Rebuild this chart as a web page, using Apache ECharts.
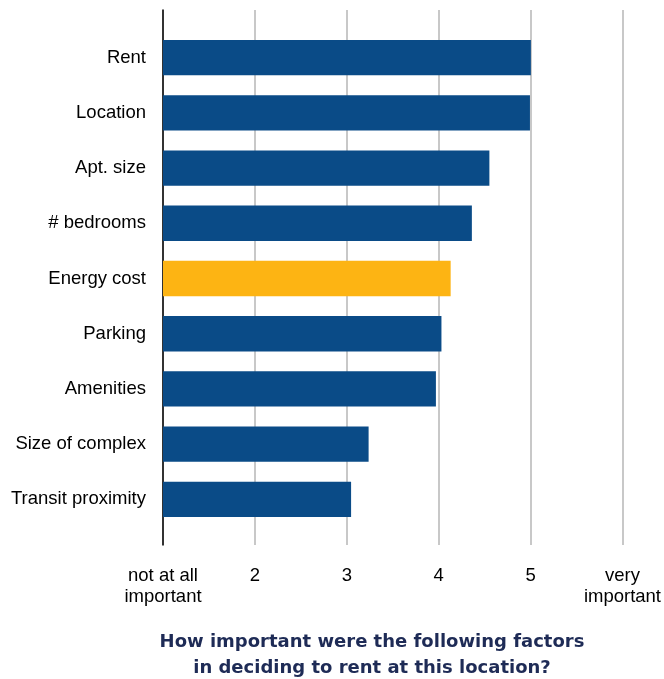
<!DOCTYPE html>
<html>
<head>
<meta charset="utf-8">
<script src="https://cdn.jsdelivr.net/npm/echarts@6/dist/echarts.min.js"></script>
<style>
  html, body { margin: 0; padding: 0; background: #fff; }
  #chart { width: 664px; height: 679px; }
</style>
</head>
<body>
<div id="chart"></div>
<script>
// Survey factors, top to bottom
const categories = ['Rent', 'Location', 'Apt. size', '# bedrooms', 'Energy cost',
  'Parking', 'Amenities', 'Size of complex', 'Transit proximity'];
// Mean importance rating (1 = not at all important, 6 = very important)
const ratings = [4.99, 4.98, 4.54, 4.35, 4.12, 4.02, 3.96, 3.23, 3.04];
// Scale tick labels
const tickLabels = { 1: 'not at all\nimportant', 2: '2', 3: '3', 4: '4', 5: '5', 6: 'very\nimportant' };
const highlighted = 'Energy cost';

const BLUE = '#0a4b87';
const GOLD = '#fdb413';
const FONT = '"Liberation Sans", Arial, sans-serif';

const chart = echarts.init(document.getElementById('chart'));
chart.setOption({
  animation: false,
  grid: [
    // frame: gridlines and scale labels
    { left: 163, right: 40, top: 10, bottom: 134 },
    // bars
    { left: 163, right: 40, top: 30, bottom: 152 }
  ],
  xAxis: [
    {
      gridIndex: 0, type: 'value', min: 1, max: 6, interval: 1,
      axisLine: { show: false },
      axisTick: { show: false },
      splitLine: { show: true, lineStyle: { color: '#c8c8c8', width: 2 } },
      axisLabel: {
        margin: 20, color: '#000', fontSize: 18.5, fontFamily: FONT, lineHeight: 21,
        formatter: v => tickLabels[v] || ''
      }
    },
    { gridIndex: 1, type: 'value', min: 1, max: 6, show: false }
  ],
  yAxis: [
    {
      gridIndex: 0, type: 'value', min: 0, max: 1,
      axisLine: { show: true, lineStyle: { color: '#000', width: 1.5 } },
      axisTick: { show: false }, axisLabel: { show: false }, splitLine: { show: false }
    },
    {
      gridIndex: 1, type: 'category', inverse: true, data: categories,
      axisLine: { show: false }, axisTick: { show: false },
      axisLabel: { margin: 17, color: '#000', fontSize: 18.5, fontFamily: FONT, padding: [4, 0, 0, 0] }
    }
  ],
  series: [{
    type: 'bar',
    xAxisIndex: 1, yAxisIndex: 1,
    barWidth: '64%',
    data: ratings.map((v, i) => ({
      value: v,
      itemStyle: { color: categories[i] === highlighted ? GOLD : BLUE }
    }))
  }],
  graphic: [{
    type: 'text',
    x: 372,
    y: 629,
    style: {
      text: 'How important were the following factors\nin deciding to rent at this location?',
      font: 'bold 18px "DejaVu Sans", sans-serif',
      fill: '#1e2b56',
      align: 'center',
      textAlign: 'center',
      verticalAlign: 'top',
      lineHeight: 26
    }
  }]
});
</script>
</body>
</html>
